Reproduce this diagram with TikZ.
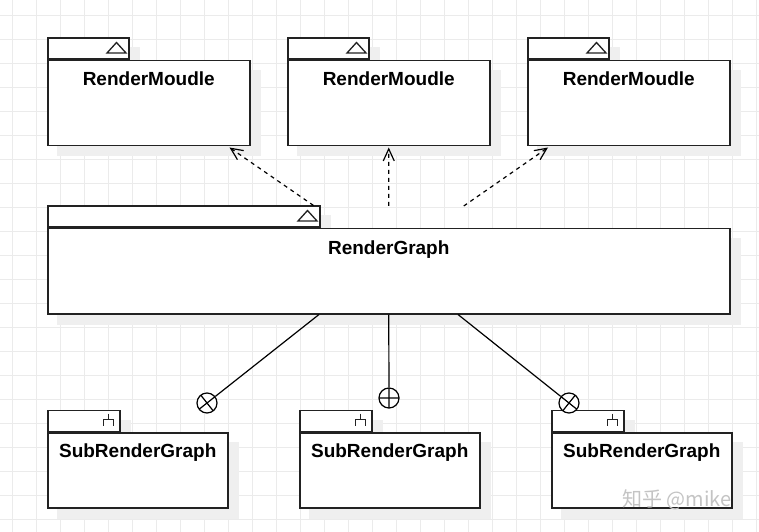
\documentclass[tikz,border=0pt]{standalone}
\usepackage{fontspec}
\setmainfont{Liberation Sans}
\newfontfamily\cjkfont{Noto Sans CJK SC}
\usetikzlibrary{arrows.meta,calc,backgrounds}
\definecolor{gridc}{HTML}{EBEBEB}
\definecolor{shadowc}{HTML}{EFEFEF}
\definecolor{linec}{HTML}{222222}
\definecolor{markc}{HTML}{C4C4C4}
\tikzset{
  pkgbody/.style={draw=linec, fill=white, line width=1.5bp, rectangle, inner sep=0pt, anchor=north west},
  pkgtab/.style={draw=linec, fill=white, line width=1.5bp, rectangle, inner sep=0pt, anchor=south west},
  pkglabel/.style={font=\fontsize{19bp}{23bp}\selectfont\bfseries, text=black, inner sep=0pt, anchor=base},
  icon/.style={draw=linec, line width=1.3bp},
  depend/.style={draw=black, line width=1.2bp, dash pattern=on 4bp off 4bp, -{Straight Barb[length=12bp,width=11bp]}},
  contain/.style={draw=black, line width=1.2bp},
  endcircle/.style={circle, draw=black, line width=1.2bp, fill=white, minimum size=20bp, inner sep=0pt},
  gridline/.style={draw=gridc, line width=0.8bp},
  watermark/.style={font=\cjkfont\fontsize{20bp}{24bp}\selectfont, text=markc, inner sep=0pt},
}
\newcommand\pkgshadow[1]{%
  \fill[shadowc] ([shift={(10bp,-10bp)}]#1.north west) rectangle ([shift={(10bp,-10bp)}]#1.south east);}
\newcommand\triicon[1]{%
  \draw[icon] ([xshift=-22.5bp,yshift=-15.5bp]#1.north east) -- ([xshift=-3.5bp,yshift=-15.5bp]#1.north east)
    -- ([xshift=-13bp,yshift=-5bp]#1.north east) -- cycle;}
\newcommand\forkicon[1]{%
  \draw[icon] ([xshift=-11.8bp,yshift=-4bp]#1.north east) -- ([xshift=-11.8bp,yshift=-10bp]#1.north east);
  \draw[icon] ([xshift=-16.7bp,yshift=-16bp]#1.north east) -- ([xshift=-16.7bp,yshift=-10bp]#1.north east)
    -- ([xshift=-7.2bp,yshift=-10bp]#1.north east) -- ([xshift=-7.2bp,yshift=-16bp]#1.north east);}
\begin{document}
\begin{tikzpicture}[x=1bp,y=-1bp]
\useasboundingbox (0,0) rectangle (759,532);

% packages: RenderMoudle
\node[pkgbody, minimum width=202bp, minimum height=85bp] (m1) at (47,60) {};
\node[pkgtab, minimum width=81bp, minimum height=21bp] (m1tab) at (47,60) {};
\node[pkgbody, minimum width=202bp, minimum height=85bp] (m2) at (287,60) {};
\node[pkgtab, minimum width=81bp, minimum height=21bp] (m2tab) at (287,60) {};
\node[pkgbody, minimum width=202bp, minimum height=85bp] (m3) at (527,60) {};
\node[pkgtab, minimum width=81bp, minimum height=21bp] (m3tab) at (527,60) {};
% RenderGraph
\node[pkgbody, minimum width=682bp, minimum height=85bp] (rg) at (47,228) {};
\node[pkgtab, minimum width=272bp, minimum height=21bp] (rgtab) at (47,228) {};
% SubRenderGraph
\node[pkgbody, minimum width=180bp, minimum height=75bp] (s1) at (47,432) {};
\node[pkgtab, minimum width=72bp, minimum height=21bp] (s1tab) at (47,432) {};
\node[pkgbody, minimum width=180bp, minimum height=75bp] (s2) at (299,432) {};
\node[pkgtab, minimum width=72bp, minimum height=21bp] (s2tab) at (299,432) {};
\node[pkgbody, minimum width=180bp, minimum height=75bp] (s3) at (551,432) {};
\node[pkgtab, minimum width=72bp, minimum height=21bp] (s3tab) at (551,432) {};

% background: grid and shadows
\begin{scope}[on background layer]
  \fill[white] (0,0) rectangle (759,532);
  \foreach \x in {12,36,...,756} \draw[gridline] (\x,0) -- (\x,532);
  \foreach \y in {15,39,...,519} \draw[gridline] (0,\y) -- (759,\y);
  \foreach \n in {m1,m1tab,m2,m2tab,m3,m3tab,rg,rgtab,s1,s1tab,s2,s2tab,s3,s3tab} {\pkgshadow{\n}}
\end{scope}

% icons
\triicon{m1tab}
\triicon{m2tab}
\triicon{m3tab}
\triicon{rgtab}
\forkicon{s1tab}
\forkicon{s2tab}
\forkicon{s3tab}

% labels
\node[pkglabel] (m1t) at ([yshift=-26bp]m1.north) {RenderMoudle};
\node[pkglabel] (m2t) at ([yshift=-26bp]m2.north) {RenderMoudle};
\node[pkglabel] (m3t) at ([yshift=-26bp]m3.north) {RenderMoudle};
\node[pkglabel] (rgt) at ([yshift=-26bp]rg.north) {RenderGraph};
\node[pkglabel] (s1t) at ([yshift=-25bp]s1.north) {SubRenderGraph};
\node[pkglabel] (s2t) at ([yshift=-25bp]s2.north) {SubRenderGraph};
\node[pkglabel] (s3t) at ([yshift=-25bp]s3.north) {SubRenderGraph};

% dependency arrows
\coordinate (d1s) at ([xshift=-7bp]rgtab.north east);
\coordinate (d1e) at ([xshift=-21bp,yshift=-1bp]m1.south east);
\coordinate (d2s) at ($(rg.north)+(0,-22)$);
\coordinate (d2e) at ([yshift=-1bp]m2.south);
\coordinate (d3s) at ($(rg.north)+(75,-22)$);
\coordinate (d3e) at ([xshift=21bp,yshift=-1bp]m3.south west);
\draw[depend] (d1s) -- (d1e);
\draw[depend] (d2s) -- (d2e);
\draw[depend] (d3s) -- (d3e);

% containment connectors
\coordinate (c1s) at ([xshift=272bp]rg.south west);
\coordinate (c2s) at (rg.south);
\coordinate (c3s) at ([xshift=411bp]rg.south west);
\node[endcircle] (c1) at (207,403) {};
\node[endcircle] (c2) at (389,398) {};
\node[endcircle] (c3) at (569,403) {};
\foreach \i in {1,2,3} {
  \draw[contain] (c\i s) -- (c\i);
  \draw[contain] ($(c\i.center)!10bp!(c\i s)$) -- ($(c\i.center)!-10bp!(c\i s)$);
  \draw[contain] ($(c\i.center)!10bp!90:(c\i s)$) -- ($(c\i.center)!10bp!-90:(c\i s)$);
}

% watermark
\node[watermark] (wm) at (677,500) {知乎 @mike};
\end{tikzpicture}
\end{document}
